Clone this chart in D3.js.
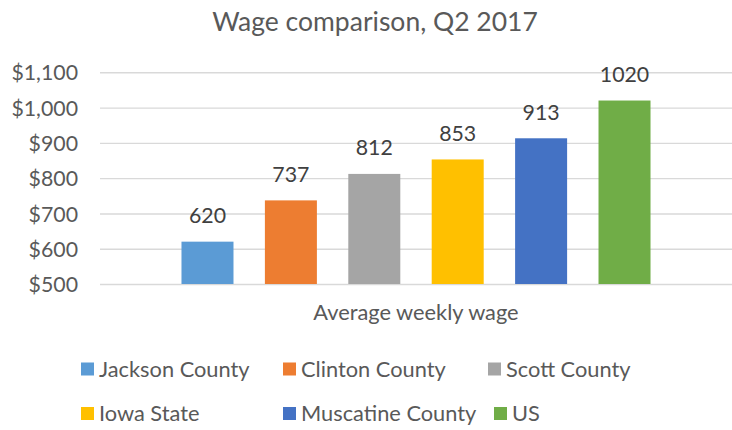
<!DOCTYPE html>
<html>
<head>
<meta charset="utf-8">
<script src="https://cdn.jsdelivr.net/npm/d3@7"></script>
<style>
  body { margin: 0; background: #fff; }
  text { font-family: Lato, "Open Sans", sans-serif; }
</style>
</head>
<body>
<div id="chart-area"></div>
<script>
// wage comparison, Q2 2017 - clustered column, one category

const names = ["Jackson County","Clinton County","Scott County","Iowa State","Muscatine County","US"]
const wages = [620,737,812,853,913,1020]
const colors = ["#5B9BD5","#ED7D31","#A5A5A5","#FFC000","#4472C4","#70AD47"]
const yTicks = [500,600,700,800,900,1000,1100]
const category = "Average weekly wage"

const W = 732, H = 430
const PLOT = {LEFT:100, RIGHT:732, TOP:72.3, BOTTOM:284}

const svg = d3.select("#chart-area").append("svg")
	.attr("width",W)
	.attr("height",H)

svg.append("text")
	.attr("x",375)
	.attr("y",31)
	.attr("text-anchor","middle")
	.attr("font-size","26.5px")
	.attr("fill","#595959")
	.text("Wage comparison, Q2 2017")

const x = d3.scaleBand()
	.domain(names)
	.range([PLOT.LEFT,PLOT.RIGHT])
	.paddingInner(0.3765)
	.paddingOuter(0.977)

const y = d3.scaleLinear()
	.domain([500,1100])
	.range([PLOT.BOTTOM,PLOT.TOP])

const yAxisCall = d3.axisLeft(y)
	.tickValues(yTicks)
	.tickFormat(d3.format("$,"))
	.tickSize(-(PLOT.RIGHT-PLOT.LEFT))
	.tickPadding(22)

const yAxisGroup = svg.append("g")
	.attr("transform",`translate(${PLOT.LEFT},0)`)
	.call(yAxisCall)

yAxisGroup.select(".domain").remove()
yAxisGroup.selectAll("line")
	.attr("stroke","#D9D9D9")
	.attr("stroke-width",1.4)
yAxisGroup.selectAll("text")
	.attr("font-size","21.3px")
	.attr("fill","#595959")
	.attr("font-family","Lato, 'Open Sans', sans-serif")
	.attr("dy","0.36em")

svg.selectAll("rect.bar")
	.data(names)
	.enter().append("rect")
	.attr("class","bar")
	.attr("x",d=>x(d))
	.attr("width",x.bandwidth())
	.attr("y",(d,i)=>y(wages[i]))
	.attr("height",(d,i)=>y(500)-y(wages[i]))
	.attr("fill",(d,i)=>colors[i])

svg.selectAll("text.label")
	.data(names)
	.enter().append("text")
	.attr("class","label")
	.attr("x",d=>x(d)+x.bandwidth()/2)
	.attr("y",(d,i)=>y(wages[i])-18.5)
	.attr("text-anchor","middle")
	.attr("font-size","21.3px")
	.attr("fill","#404040")
	.text((d,i)=>wages[i])

svg.append("text")
	.attr("x",(PLOT.LEFT+PLOT.RIGHT)/2)
	.attr("y",320)
	.attr("text-anchor","middle")
	.attr("font-size","21.8px")
	.attr("fill","#595959")
	.text(category)

// legend, 3 per row
const legendX = [81,283,488,81,283,494]
const legendY = [369,413.5]

names.forEach((name,i)=>{
	const row = svg.append("g")
		.attr("transform",`translate(${legendX[i]},${legendY[Math.floor(i/3)]})`)
	row.append("rect")
		.attr("y",-6.5)
		.attr("width",13)
		.attr("height",13)
		.attr("fill",colors[i])
	row.append("text")
		.attr("x",18)
		.attr("y",7.5)
		.attr("font-size","21.8px")
		.attr("fill","#595959")
		.text(name)
})
</script>
</body>
</html>
